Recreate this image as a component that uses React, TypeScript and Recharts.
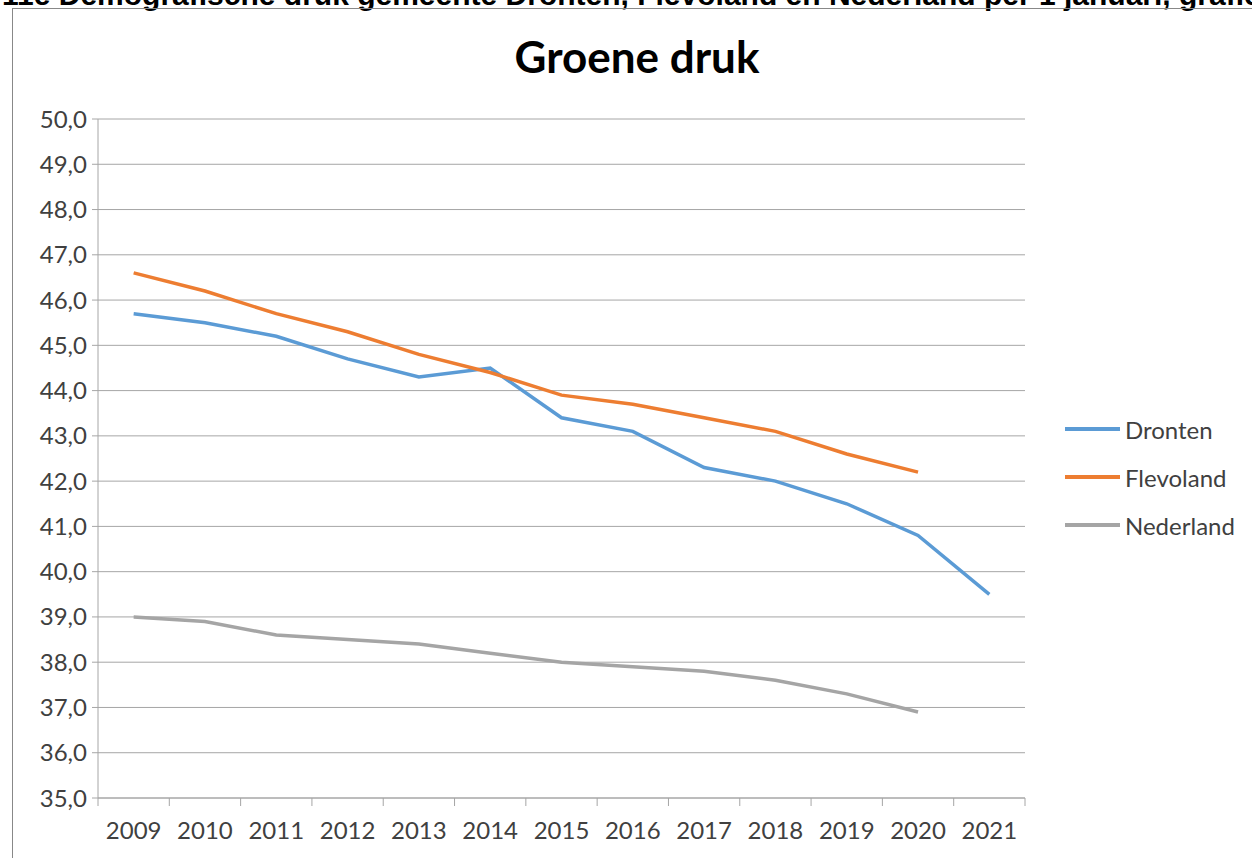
import { LineChart, Line, XAxis, YAxis, CartesianGrid } from 'recharts';

const years = ['2009', '2010', '2011', '2012', '2013', '2014', '2015', '2016', '2017', '2018', '2019', '2020', '2021'];
const dronten = [45.7, 45.5, 45.2, 44.7, 44.3, 44.5, 43.4, 43.1, 42.3, 42.0, 41.5, 40.8, 39.5];
const flevoland = [46.6, 46.2, 45.7, 45.3, 44.8, 44.4, 43.9, 43.7, 43.4, 43.1, 42.6, 42.2, null];
const nederland = [39.0, 38.9, 38.6, 38.5, 38.4, 38.2, 38.0, 37.9, 37.8, 37.6, 37.3, 36.9, null];
const yTicks = [35, 36, 37, 38, 39, 40, 41, 42, 43, 44, 45, 46, 47, 48, 49, 50];

const series = [
  { key: 'Dronten', color: '#5B9BD5' },
  { key: 'Flevoland', color: '#ED7D31' },
  { key: 'Nederland', color: '#A5A5A5' },
];

const data = years.map((year, i) => ({
  year,
  Dronten: dronten[i],
  Flevoland: flevoland[i],
  Nederland: nederland[i],
}));

const W = 1252;
const H = 858;
const xAxisHeight = 30;
const margin = { top: 119, right: 227, bottom: 30, left: 38 };
const yAxisWidth = 60;
const plotWidth = W - margin.left - margin.right - yAxisWidth;
const band = plotWidth / years.length;
const xTickSize = 8;
const xTickMargin = 16;
const axisColor = '#A6A6A6';
const textColor = '#404040';
const font = 'Lato, "Open Sans", sans-serif';

function YearTick(props: any) {
  const { x, y, payload, index } = props;
  const left = x - band / 2;
  const top = y - xTickSize - xTickMargin;
  return (
    <g>
      <line x1={left} y1={top} x2={left} y2={top + xTickSize} stroke={axisColor} strokeWidth={1} />
      {index === years.length - 1 && (
        <line x1={left + band} y1={top} x2={left + band} y2={top + xTickSize} stroke={axisColor} strokeWidth={1} />
      )}
      <text x={x} y={y} dy="0.71em" textAnchor="middle" fill={textColor} fontSize={24} fontFamily={font}>
        {payload.value}
      </text>
    </g>
  );
}

export default function App() {
  return (
    <div style={{ position: 'absolute', left: 0, top: 0, width: W, height: H, overflow: 'hidden', background: '#fff' }}>
      <svg width={W} height={20} style={{ position: 'absolute', left: 0, top: 0 }}>
        <text
          x={2}
          y={5}
          fontFamily='Arial, "Liberation Sans", sans-serif'
          fontWeight="bold"
          fontSize={30}
          fill="#000"
        >
          11e Demografische druk gemeente Dronten, Flevoland en Nederland per 1 januari, grafiek
        </text>
      </svg>
      <div
        style={{
          position: 'absolute',
          left: 12,
          top: 8,
          width: W,
          height: H,
          border: '1px solid #888',
          boxSizing: 'border-box',
        }}
      />
      <svg width={W} height={100} style={{ position: 'absolute', left: 0, top: 0 }}>
        <text x={637} y={73} textAnchor="middle" fontFamily={font} fontWeight="bold" fontSize={44} fill="#000">
          Groene druk
        </text>
      </svg>
      <div style={{ position: 'absolute', left: 0, top: 0 }}>
        <LineChart width={W} height={H} data={data} margin={margin}>
          <CartesianGrid vertical={false} stroke={axisColor} strokeWidth={1} />
          <XAxis
            dataKey="year"
            height={xAxisHeight}
            stroke={axisColor}
            tickLine={false}
            tickSize={xTickSize}
            tickMargin={xTickMargin}
            tick={<YearTick />}
            interval={0}
            padding={{ left: band / 2, right: band / 2 }}
          />
          <YAxis
            width={yAxisWidth}
            domain={[35, 50]}
            ticks={yTicks}
            interval={0}
            stroke={axisColor}
            tickSize={6}
            tickMargin={5}
            tick={{ fill: textColor, fontSize: 24, fontFamily: font }}
            tickFormatter={(v: number) => v.toFixed(1).replace('.', ',')}
          />
          {series.map((s) => (
            <Line
              key={s.key}
              dataKey={s.key}
              stroke={s.color}
              strokeWidth={3.5}
              dot={false}
              activeDot={false}
              type="linear"
              isAnimationActive={false}
            />
          ))}
        </LineChart>
      </div>
      {series.map((s, i) => (
        <div
          key={s.key}
          style={{
            position: 'absolute',
            left: 1065,
            top: 429 + i * 48 - 16,
            height: 32,
            display: 'flex',
            alignItems: 'center',
            fontFamily: font,
            fontSize: 24,
            color: textColor,
          }}
        >
          <span style={{ display: 'inline-block', width: 55, height: 3.5, background: s.color, marginRight: 5 }} />
          {s.key}
        </div>
      ))}
    </div>
  );
}
